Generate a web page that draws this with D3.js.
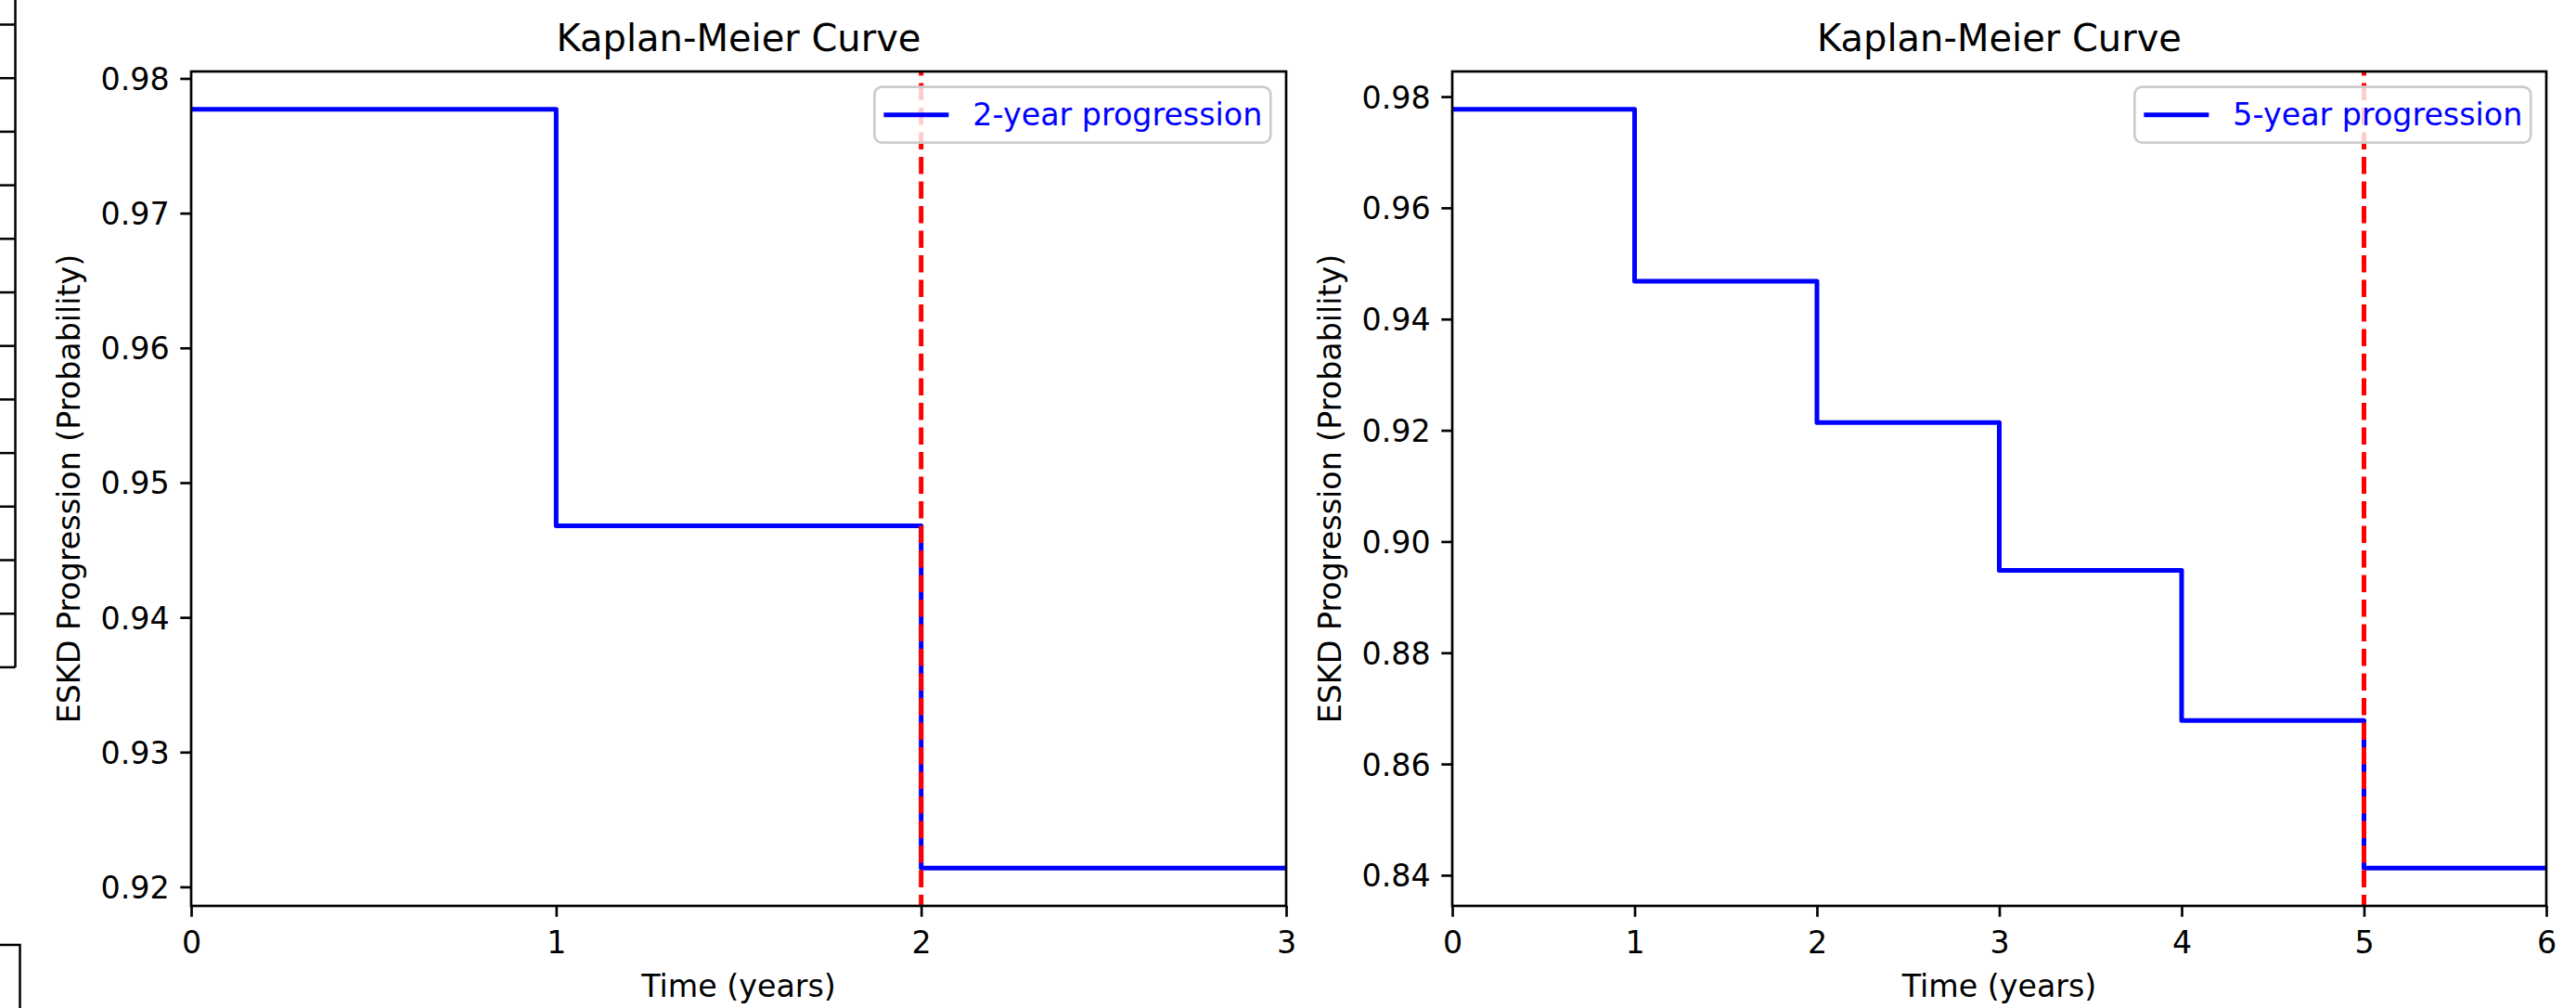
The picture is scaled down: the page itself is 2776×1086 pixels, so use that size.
<!DOCTYPE html>
<html>
<head>
<meta charset="utf-8">
<script src="https://cdn.jsdelivr.net/npm/d3@7"></script>
<style>
  html, body { margin: 0; padding: 0; background: #ffffff; }
  svg { display: block; }
  text { font-family: "DejaVu Sans", sans-serif; }
</style>
</head>
<body>
<svg id="chart" width="2776" height="1086"></svg>
<script>
// ---------------- data ----------------
const panelTitles = ["Kaplan-Meier Curve", "Kaplan-Meier Curve"];
const legendLabels = ["2-year progression", "5-year progression"];
const xLabel = "Time (years)";
const yLabel = "ESKD Progression (Probability)";

// step times (years) and survival probabilities (Kaplan-Meier, step after)
const times2 = [0, 1, 2];
const surv2 = [0.9777, 0.9468, 0.9214];
const times5 = [0, 1, 2, 3, 4, 5];
const surv5 = [0.9777, 0.9468, 0.9214, 0.8948, 0.8678, 0.8413];

const xMax = [3, 6];
const cutoffs = [2, 5];

const xTicks2 = [0, 1, 2, 3];
const xTicks5 = [0, 1, 2, 3, 4, 5, 6];
const yTicks2 = [0.92, 0.93, 0.94, 0.95, 0.96, 0.97, 0.98];
const yTicks5 = [0.84, 0.86, 0.88, 0.90, 0.92, 0.94, 0.96, 0.98];

// ---------------- layout ----------------
const svg = d3.select("#chart");
svg.append("rect").attr("width", 2776).attr("height", 1086).attr("fill", "#ffffff");

// partial table border visible at the left edge of the picture
const tableRows = d3.range(13);
const deco = svg.append("g").attr("stroke", "#000").attr("stroke-width", 2.5).attr("fill", "none");
deco.append("line").attr("x1", 16.5).attr("x2", 16.5).attr("y1", 0).attr("y2", 719);
tableRows.forEach(i => {
  const y = 26.5 + i * 57.7;
  deco.append("line").attr("x1", 0).attr("x2", 16.5).attr("y1", y).attr("y2", y);
});
deco.append("path").attr("d", "M0,1018 H21.5 V1086");

const FS = 33.3;       // 10pt
const TITLE_FS = 40;   // 12pt
const TICK = 11.7;
const SPINE = 2.67;

const panels = [
  { x0: 206, x1: 1386, times: times2, surv: surv2, xMax: xMax[0], cut: cutoffs[0],
    xTicks: xTicks2, yTicks: yTicks2, title: panelTitles[0], legend: legendLabels[0] },
  { x0: 1565, x1: 2744, times: times5, surv: surv5, xMax: xMax[1], cut: cutoffs[1],
    xTicks: xTicks5, yTicks: yTicks5, title: panelTitles[1], legend: legendLabels[1] }
];
const yTop = 77, yBot = 976;

panels.forEach((p, idx) => {
  const x = d3.scaleLinear().domain([0, p.xMax]).range([p.x0, p.x1]);
  const ymin = d3.min(p.surv), ymax = d3.max(p.surv);
  const m = 0.05 * (ymax - ymin);
  const y = d3.scaleLinear().domain([ymin - m, ymax + m]).range([yBot, yTop]);

  const g = svg.append("g");
  const clipId = "clip" + idx;
  svg.append("clipPath").attr("id", clipId)
    .append("rect").attr("x", p.x0).attr("y", yTop).attr("width", p.x1 - p.x0).attr("height", yBot - yTop);

  // step curve
  const pts = p.times.map((t, i) => [t, p.surv[i]]);
  pts.push([p.xMax, p.surv[p.surv.length - 1]]);
  const line = d3.line().x(d => x(d[0])).y(d => y(d[1])).curve(d3.curveStepAfter);
  g.append("path").datum(pts)
    .attr("clip-path", `url(#${clipId})`)
    .attr("d", line)
    .attr("fill", "none")
    .attr("stroke", "#0000ff")
    .attr("stroke-width", 5)
    .attr("stroke-linejoin", "round")
    .attr("stroke-linecap", "square");

  // cutoff dashed line
  g.append("line")
    .attr("x1", x(p.cut)).attr("x2", x(p.cut))
    .attr("y1", yBot).attr("y2", yTop)
    .attr("stroke", "#ff0000")
    .attr("stroke-width", 5)
    .attr("stroke-dasharray", "18.5,8")
    .attr("stroke-dashoffset", 6.5);

  // axes
  const yAxis = d3.axisLeft(y).tickValues(p.yTicks).tickFormat(d3.format(".2f"))
    .tickSize(TICK).tickPadding(TICK);
  const ya = g.append("g").attr("transform", `translate(${p.x0},0)`).call(yAxis);
  const xAxis = d3.axisBottom(x).tickValues(p.xTicks).tickFormat(d3.format("d"))
    .tickSize(TICK).tickPadding(TICK);
  const xa = g.append("g").attr("transform", `translate(0,${yBot})`).call(xAxis);
  [ya, xa].forEach(a => {
    a.select(".domain").remove();
    a.selectAll(".tick line").attr("stroke", "#000").attr("stroke-width", SPINE);
    a.selectAll(".tick text").attr("fill", "#000").attr("font-size", FS)
      .attr("font-family", "DejaVu Sans, sans-serif");
  });
  ya.selectAll(".tick text").attr("dy", "0.36em");
  xa.selectAll(".tick text").attr("dy", "0.83em");

  // spines
  g.append("rect").attr("x", p.x0).attr("y", yTop)
    .attr("width", p.x1 - p.x0).attr("height", yBot - yTop)
    .attr("fill", "none").attr("stroke", "#000").attr("stroke-width", SPINE);

  // title
  g.append("text").attr("x", (p.x0 + p.x1) / 2).attr("y", 55)
    .attr("text-anchor", "middle").attr("font-size", TITLE_FS).attr("fill", "#000")
    .text(p.title);

  // axis labels
  g.append("text").attr("x", (p.x0 + p.x1) / 2).attr("y", 1074)
    .attr("text-anchor", "middle").attr("font-size", FS).attr("fill", "#000")
    .text(xLabel);
  g.append("text")
    .attr("transform", `translate(${p.x0 - 120},${(yTop + yBot) / 2}) rotate(-90)`)
    .attr("text-anchor", "middle").attr("font-size", FS).attr("fill", "#000")
    .text(yLabel);

  // legend
  const lg = g.append("g");
  const box = lg.append("rect");
  const txt = lg.append("text").attr("font-size", FS).attr("fill", "#0000ff").text(p.legend);
  const tw = txt.node().getComputedTextLength();
  const padL = 10, padR = 9, handle = 70, htp = 26;
  const bw = padL + handle + htp + tw + padR;
  const bx = p.x1 - 16.7 - bw, by = yTop + 16.7, bh = 60;
  box.attr("x", bx).attr("y", by).attr("width", bw).attr("height", bh)
    .attr("rx", 8).attr("ry", 8)
    .attr("fill", "#ffffff").attr("fill-opacity", 0.8)
    .attr("stroke", "#cccccc").attr("stroke-width", 2.7);
  lg.append("line").attr("x1", bx + padL).attr("x2", bx + padL + handle)
    .attr("y1", by + bh / 2).attr("y2", by + bh / 2)
    .attr("stroke", "#0000ff").attr("stroke-width", 5);
  txt.attr("x", bx + padL + handle + htp).attr("y", by + bh / 2 + 11.5);
});
</script>
</body>
</html>
